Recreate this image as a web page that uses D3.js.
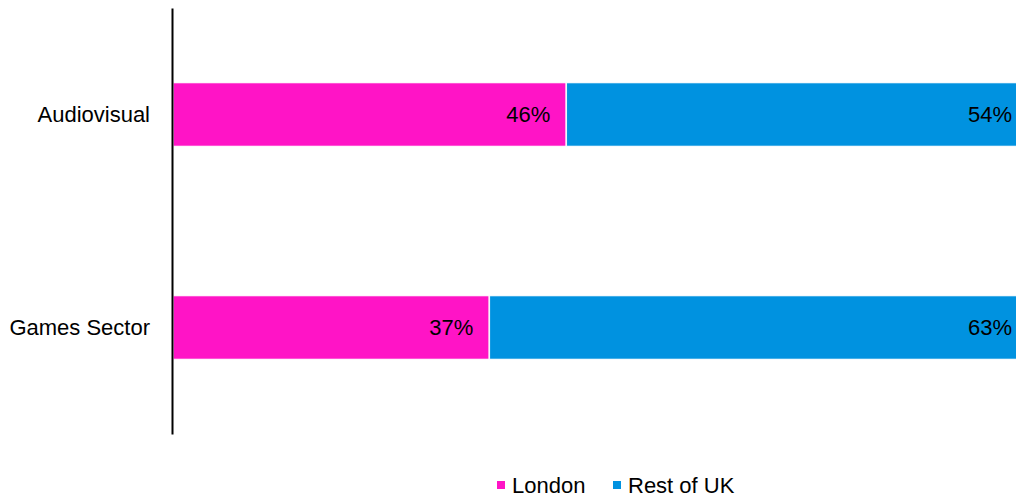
<!DOCTYPE html>
<html>
<head>
<meta charset="utf-8">
<script src="https://cdn.jsdelivr.net/npm/d3@7"></script>
<style>
  html, body { margin: 0; padding: 0; background: #fff; }
  svg { display: block; font-family: "Liberation Sans", Arial, sans-serif; }
</style>
</head>
<body>
<svg id="chart" width="1016" height="498"></svg>
<script>
// Share of employment, London vs rest of UK
const categories = ["Audiovisual", "Games Sector"];
const seriesNames = ["London", "Rest of UK"];
const london = [46, 37];
const restOfUK = [54, 63];
const colors = ["#FF14C6", "#0092E0"];

const svg = d3.select("#chart");

const x = d3.scaleLinear().domain([0, 100]).range([173, 1028]);
const y = d3.scaleBand().domain(categories).range([8, 434])
  .paddingInner(0.7).paddingOuter(0.35);

const rows = categories.map((c, i) => ({ category: c, London: london[i], "Rest of UK": restOfUK[i] }));
const stacked = d3.stack().keys(seriesNames)(rows);

const layers = svg.append("g").selectAll("g")
  .data(stacked)
  .join("g")
  .attr("fill", (d, i) => colors[i]);

layers.selectAll("rect")
  .data(d => d)
  .join("rect")
  .attr("x", d => x(d[0]))
  .attr("y", d => y(d.data.category))
  .attr("width", d => x(d[1]) - x(d[0]))
  .attr("height", y.bandwidth())
  .attr("stroke", "#fff")
  .attr("stroke-opacity", 0.9)
  .attr("stroke-width", 1.5);

// Value labels, right-aligned inside each segment
layers.selectAll("text")
  .data(d => d.map(v => ({ v, key: d.key })))
  .join("text")
  .attr("x", d => x(d.v[1]) - 16)
  .attr("y", d => y(d.v.data.category) + y.bandwidth() / 2)
  .attr("dy", "0.35em")
  .attr("text-anchor", "end")
  .attr("fill", "#000")
  .attr("font-size", 22)
  .text(d => (d.v[1] - d.v[0]) + "%");

// Category axis
const axis = svg.append("g")
  .attr("transform", "translate(172,0)")
  .call(d3.axisLeft(y).tickSize(0).tickSizeOuter(0).tickPadding(22));
axis.select(".domain").attr("stroke", "#000").attr("stroke-width", 2);
axis.selectAll(".tick text")
  .attr("font-size", 22)
  .attr("font-family", "Liberation Sans, Arial, sans-serif")
  .attr("fill", "#000");

// Legend
const legend = svg.append("g").attr("transform", "translate(497,485)");
const itemX = [0, 116];
const items = legend.selectAll("g")
  .data(seriesNames)
  .join("g")
  .attr("transform", (d, i) => `translate(${itemX[i]},0)`);
items.append("rect")
  .attr("x", 0).attr("y", -4)
  .attr("width", 8).attr("height", 8)
  .attr("fill", (d, i) => colors[i]);
items.append("text")
  .attr("x", 15)
  .attr("dy", "0.35em")
  .attr("font-size", 22)
  .attr("fill", "#000")
  .text(d => d);
</script>
</body>
</html>
